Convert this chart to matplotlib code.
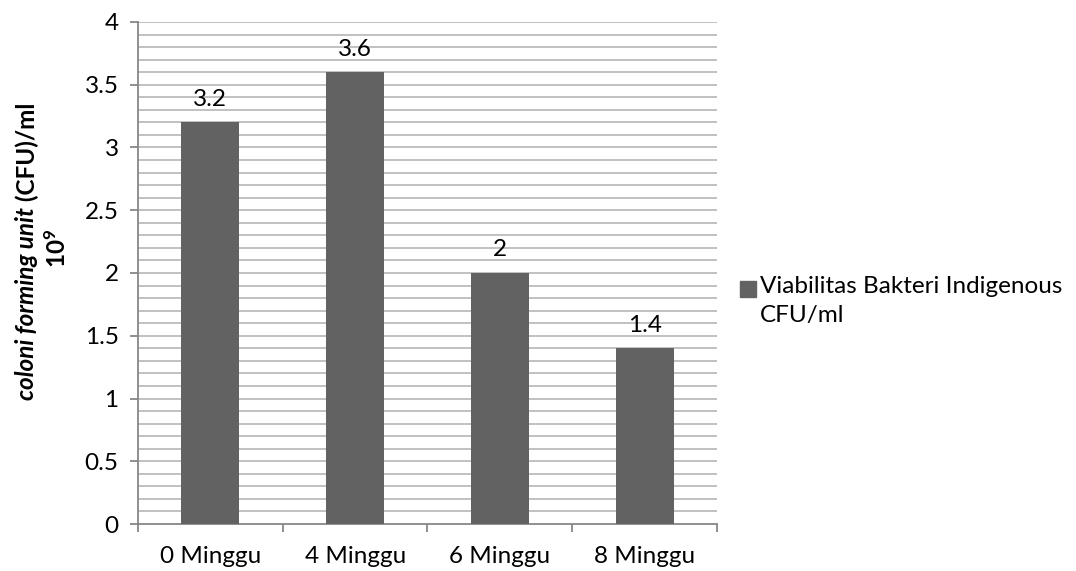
import numpy as np
import matplotlib.pyplot as plt
from matplotlib.patches import Rectangle

plt.rcParams['font.family'] = ['Lato', 'DejaVu Sans']
plt.rcParams['mathtext.fontset'] = 'custom'
plt.rcParams['mathtext.rm'] = 'Lato'
plt.rcParams['mathtext.bf'] = 'Lato:bold'

weeks = ['0 Minggu', '4 Minggu', '6 Minggu', '8 Minggu']
cfu = [3.2, 3.6, 2.0, 1.4]
cfu_labels = ['3.2', '3.6', '2', '1.4']
series_name = 'Viabilitas Bakteri Indigenous\nCFU/ml'

bar_col = '#626262'
grid_col = '#bcbcbc'
axis_col = '#878787'
fs = 17.5

W, H = 1076, 571
fig = plt.figure(figsize=(W / 100, H / 100), dpi=100)
ax = fig.add_axes([0.1283, 0.0823, 0.538, 0.8792])

x = np.arange(len(weeks))
ax.bar(x, cfu, width=0.4, color=bar_col, zorder=3)
for xi, v, s in zip(x, cfu, cfu_labels):
    ax.text(xi, v + 0.1, s, ha='center', va='bottom', fontsize=fs)

ax.set_xlim(-0.5, 3.5)
ax.set_ylim(0, 4)

# light lines every 0.1
for g in np.arange(0.1, 4.01, 0.1):
    ax.axhline(g, color=grid_col, lw=1.3, zorder=1)

ax.set_yticks(np.arange(0, 4.01, 0.5))
ax.set_yticklabels(['0', '0.5', '1', '1.5', '2', '2.5', '3', '3.5', '4'], fontsize=fs)
ax.set_xticks(np.arange(-0.5, 3.6, 1))
ax.set_xticklabels([])
ax.set_xticks(x, minor=True)
ax.set_xticklabels(weeks, minor=True, fontsize=fs)
ax.tick_params(axis='x', which='major', length=6, color=axis_col, width=1.3, direction='out')
ax.tick_params(axis='x', which='minor', length=0, pad=16)
ax.tick_params(axis='y', length=6, color=axis_col, width=1.3, pad=8)

for side in ['top', 'right']:
    ax.spines[side].set_visible(False)
for side in ['left', 'bottom']:
    ax.spines[side].set_color(axis_col)
    ax.spines[side].set_linewidth(1.3)

# y axis title: italic bold part followed by bold part, second line 10^9
renderer = fig.canvas.get_renderer()
cx, cy = 27 / W, 1 - 251 / H
t1 = fig.text(cx, 0, 'coloni forming unit', rotation=90, fontsize=fs,
              fontweight='bold', style='italic', ha='center', va='bottom')
t2 = fig.text(cx, 0, ' (CFU)/ml', rotation=90, fontsize=fs,
              fontweight='bold', ha='center', va='bottom')
h1 = t1.get_window_extent(renderer).height / fig.bbox.height
h2 = t2.get_window_extent(renderer).height / fig.bbox.height
y0 = cy - (h1 + h2) / 2
t1.set_y(y0)
t2.set_y(y0 + h1)
fig.text(57 / W, 1 - 248 / H, r'$\mathbf{10^{9}}$', rotation=90,
         fontsize=fs, ha='center', va='center')

# legend key and text
fig.patches.append(Rectangle((740 / W, 1 - 297 / H), 16 / W, 16 / H,
                             transform=fig.transFigure, color=bar_col))
fig.text(760 / W, 1 - 276 / H, series_name, fontsize=fs, ha='left', va='top',
         linespacing=1.45)

fig.savefig('out.png', dpi=100)
